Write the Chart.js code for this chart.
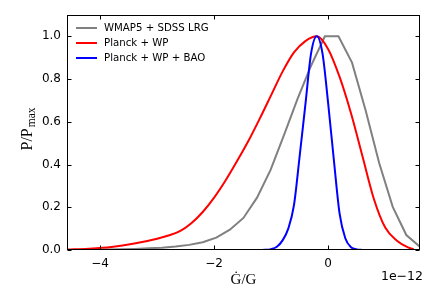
<!DOCTYPE html>
<html>
<head>
<meta charset="utf-8">
<script src="https://cdn.jsdelivr.net/npm/chart.js@4.4.1/dist/chart.umd.min.js"></script>
<style>
html, body { margin: 0; padding: 0; background: #fff; }
</style>
</head>
<body>
<canvas id="graf_g" width="443" height="295"></canvas>
<script>
// datos (x en unidades de 1e-12)
const xTicks = [-4, -2, 0];
const yTicks = [0, 0.2, 0.4, 0.6, 0.8, 1.0];
const etiquetas = ['WMAP5 + SDSS LRG', 'Planck + WP', 'Planck + WP + BAO'];

const wmapX = [-4.58, -4.342, -4.104, -3.866, -3.628, -3.39, -3.152, -2.914, -2.676, -2.438,
    -2.2, -1.962, -1.724, -1.486, -1.248, -1.01, -0.772, -0.534, -0.296, -0.058,
    0.18, 0.418, 0.656, 0.894, 1.132, 1.37, 1.608];
const wmapY = [0.0, 0.0, 0.001, 0.002, 0.003, 0.005, 0.008, 0.011, 0.016, 0.024,
    0.036, 0.058, 0.095, 0.15, 0.245, 0.375, 0.54, 0.71, 0.865, 1.0,
    1.0, 0.877, 0.654, 0.407, 0.202, 0.07, 0.015];

const planckX = [-4.58, -4.2, -3.8, -3.4, -3.0, -2.8, -2.6, -2.4, -2.2, -2.0, -1.8, -1.6, -1.4,
    -1.2, -1.0, -0.8, -0.6, -0.4, -0.2, 0.0, 0.2, 0.4, 0.6, 0.8, 1.0, 1.2, 1.4, 1.5];
const planckY = [0.002, 0.006, 0.014, 0.03, 0.053, 0.068, 0.088, 0.125, 0.178, 0.245, 0.325, 0.415, 0.51,
    0.615, 0.725, 0.835, 0.925, 0.978, 1.0, 0.94, 0.81, 0.64, 0.44, 0.24, 0.105, 0.045, 0.012, 0.003];

const baoX = [-1.16, -1.0, -0.9, -0.8, -0.7, -0.6, -0.5, -0.4, -0.3, -0.2, -0.1,
    0.0, 0.1, 0.2, 0.3, 0.4, 0.5, 0.6];
const baoY = [0.0, 0.004, 0.015, 0.045, 0.1, 0.21, 0.44, 0.68, 0.92, 1.0, 0.92,
    0.685, 0.42, 0.17, 0.055, 0.013, 0.003, 0.0];

const puntos = (xs, ys) => xs.map((x, i) => ({ x: x, y: ys[i] }));

// marco, ticks hacia dentro, leyenda y titulos de ejes
const marco = {
    id: 'marco',
    afterDatasetsDraw(chart) {
        const { ctx, chartArea: a, scales } = chart;
        const l = Math.round(a.left) + 0.5, r = Math.round(a.right) - 0.5;
        const t = Math.round(a.top) + 0.5, b = Math.round(a.bottom) - 0.5;
        ctx.save();
        ctx.strokeStyle = '#000';
        ctx.lineWidth = 1;
        ctx.beginPath();
        xTicks.forEach(v => {
            const px = Math.round(scales.x.getPixelForValue(v)) + 0.5;
            ctx.moveTo(px, b); ctx.lineTo(px, b - 4);
            ctx.moveTo(px, t); ctx.lineTo(px, t + 4);
        });
        yTicks.forEach(v => {
            const py = Math.round(scales.y.getPixelForValue(v)) + 0.5;
            ctx.moveTo(l, py); ctx.lineTo(l + 4, py);
            ctx.moveTo(r, py); ctx.lineTo(r - 4, py);
        });
        ctx.stroke();
        ctx.strokeRect(l, t, r - l, b - t);

        // leyenda
        ctx.font = '10.2px "DejaVu Sans"';
        ctx.textBaseline = 'middle';
        ctx.fillStyle = '#000';
        chart.data.datasets.forEach((ds, i) => {
            const yy = a.top + 13 + i * 15;
            ctx.strokeStyle = ds.borderColor;
            ctx.lineWidth = 2;
            ctx.beginPath();
            ctx.moveTo(a.left + 9, yy);
            ctx.lineTo(a.left + 30, yy);
            ctx.stroke();
            ctx.fillText(ds.label, a.left + 37, yy + 0.5);
        });

        // titulo eje x
        ctx.font = '15px "Liberation Serif"';
        ctx.textAlign = 'center';
        ctx.textBaseline = 'alphabetic';
        ctx.fillText('\u0120/G', (a.left + a.right) / 2, 284);

        // factor de escala
        ctx.font = '12.5px "DejaVu Sans"';
        ctx.textAlign = 'right';
        ctx.fillText('1e\u221212', 423, 280);

        // titulo eje y (P/P_max)
        ctx.translate(31.5, 129);
        ctx.rotate(-Math.PI / 2);
        ctx.textAlign = 'left';
        ctx.font = '16px "Liberation Serif"';
        const w1 = ctx.measureText('P/P').width;
        ctx.font = '11.5px "Liberation Serif"';
        const w2 = ctx.measureText('max').width;
        const x0 = -(w1 + 1 + w2) / 2;
        ctx.font = '16px "Liberation Serif"';
        ctx.fillText('P/P', x0, 0);
        ctx.font = '11.5px "Liberation Serif"';
        ctx.fillText('max', x0 + w1 + 1, 3.5);
        ctx.restore();
    }
};

const ctx_g = document.getElementById('graf_g').getContext('2d');
const grafica = new Chart(ctx_g, {
    type: 'line',
    data: {
        datasets: [{
            label: etiquetas[0],
            data: puntos(wmapX, wmapY),
            borderColor: '#808080',
            borderWidth: 2,
            tension: 0,
            pointRadius: 0,
            order: 3
        },
        {
            label: etiquetas[1],
            data: puntos(planckX, planckY),
            borderColor: '#ff0000',
            borderWidth: 2,
            cubicInterpolationMode: 'monotone',
            pointRadius: 0,
            order: 2
        },
        {
            label: etiquetas[2],
            data: puntos(baoX, baoY),
            borderColor: '#0000ff',
            borderWidth: 2,
            cubicInterpolationMode: 'monotone',
            pointRadius: 0,
            order: 1
        }]
    },
    options: {
        responsive: false,
        animation: false,
        layout: { padding: { left: 0, right: 23, top: 15, bottom: 0 } },
        plugins: {
            legend: { display: false },
            tooltip: { enabled: false }
        },
        scales: {
            x: {
                type: 'linear',
                min: -4.58,
                max: 1.61,
                grid: { display: false, drawTicks: false },
                border: { display: false },
                afterBuildTicks: s => { s.ticks = xTicks.map(v => ({ value: v })); },
                afterFit: s => { s.height = 45; },
                ticks: {
                    color: '#000',
                    padding: 7,
                    maxRotation: 0,
                    autoSkip: false,
                    font: { family: '"DejaVu Sans"', size: 12 },
                    callback: v => String(v).replace('-', '\u2212')
                }
            },
            y: {
                min: 0,
                max: 1.1,
                grid: { display: false, drawTicks: false },
                border: { display: false },
                afterBuildTicks: s => { s.ticks = yTicks.map(v => ({ value: v })); },
                afterFit: s => { s.width = 67; },
                ticks: {
                    color: '#000',
                    padding: 6,
                    autoSkip: false,
                    font: { family: '"DejaVu Sans"', size: 12 },
                    callback: v => v.toFixed(1)
                }
            }
        }
    },
    plugins: [marco]
});
</script>
</body>
</html>
